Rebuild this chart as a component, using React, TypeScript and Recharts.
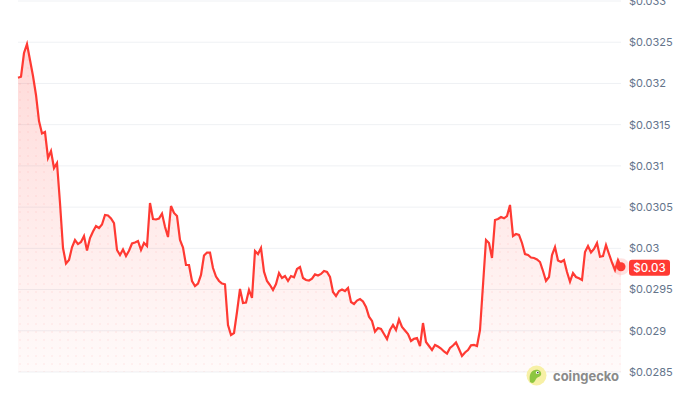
import React from "react";
import { AreaChart, Area, XAxis, YAxis, CartesianGrid } from "recharts";

// price samples, oldest to newest
const prices = [
  0.03207, 0.032082, 0.032369, 0.032478, 0.032284, 0.03209, 0.03186, 0.031544, 0.031393, 0.031411,
  0.031096, 0.031181, 0.030974, 0.031035, 0.03055, 0.030004, 0.029816, 0.029858, 0.030012, 0.030101,
  0.030052, 0.030077, 0.03015, 0.029974, 0.030125, 0.030204, 0.030271, 0.030247, 0.030289, 0.030404,
  0.030398, 0.030362, 0.030307, 0.02998, 0.029919, 0.029986, 0.029907, 0.029971, 0.030059, 0.030071,
  0.030089, 0.02998, 0.030065, 0.030028, 0.03055, 0.030356, 0.03035, 0.030362, 0.030422, 0.030262,
  0.030137, 0.030513, 0.030429, 0.030392, 0.030101, 0.03001, 0.029798, 0.029798, 0.029604, 0.029543,
  0.029573, 0.029677, 0.029913, 0.029949, 0.029949, 0.029761, 0.029658, 0.029604, 0.029573, 0.029564,
  0.02907, 0.028949, 0.028973, 0.029228, 0.029507, 0.029337, 0.029343, 0.029495, 0.029398, 0.029968,
  0.029931, 0.030004, 0.029717, 0.029604, 0.029555, 0.029495, 0.029567, 0.029701, 0.02964, 0.029664,
  0.029604, 0.029664, 0.029649, 0.029749, 0.029774, 0.02964, 0.029616, 0.02961, 0.029632, 0.029685,
  0.02967, 0.029689, 0.029725, 0.029713, 0.029652, 0.02947, 0.029422, 0.029482, 0.029501, 0.029482,
  0.029519, 0.029349, 0.029325, 0.029367, 0.029385, 0.029355, 0.029288, 0.029171, 0.029119, 0.028989,
  0.029034, 0.029022, 0.028961, 0.0289, 0.029009, 0.02907, 0.029009, 0.029137, 0.029046, 0.029003,
  0.028961, 0.028876, 0.028903, 0.028912, 0.028815, 0.029094, 0.028864, 0.028815, 0.028767, 0.028828,
  0.028809, 0.028785, 0.028749, 0.028724, 0.028791, 0.028821, 0.028858, 0.028779, 0.028694, 0.028737,
  0.028767, 0.028824, 0.028828, 0.028815, 0.029009, 0.029555, 0.030101, 0.030065, 0.029883, 0.030344,
  0.030356, 0.03038, 0.030364, 0.030392, 0.030526, 0.03015, 0.030174, 0.030162, 0.030065, 0.029931,
  0.029919, 0.029889, 0.029883, 0.029865, 0.029834, 0.029725, 0.029604, 0.029652, 0.029919, 0.030016,
  0.029852, 0.029834, 0.029858, 0.029713, 0.029595, 0.029701, 0.029652, 0.029637, 0.029616, 0.029956,
  0.030028, 0.029949, 0.029992, 0.030065, 0.029898, 0.029907, 0.03004, 0.029931, 0.029828, 0.029737,
  0.029858, 0.029777,
];

const yTicks = [0.0285, 0.029, 0.0295, 0.03, 0.0305, 0.031, 0.0315, 0.032, 0.0325, 0.033];
const currentLabel = "$0.03";

const RED = "#ff3a33";

const data = prices.map((price, i) => ({ t: i, price }));
const lastIndex = prices.length - 1;

const fmt = (v: number) => "$" + parseFloat(v.toFixed(4));

const EndDot = (props: any) => {
  const { cx, cy, index } = props;
  if (index !== lastIndex) return <g key={`d-${index}`} />;
  return (
    <g key="end-dot">
      <circle cx={cx} cy={cy} r={8.5} fill={RED} fillOpacity={0.15} />
      <circle cx={cx} cy={cy} r={4.5} fill={RED} />
      <rect x={cx + 8} y={cy - 7} width={41} height={16} rx={3} fill={RED} />
      <text
        x={cx + 28.5}
        y={cy + 1}
        textAnchor="middle"
        dominantBaseline="central"
        fill="#fff"
        fontSize={11.5}
        fontWeight={500}
        fontFamily="Inter, sans-serif"
      >
        {currentLabel}
      </text>
    </g>
  );
};

const Logo = () => (
  <div
    style={{
      position: "absolute",
      left: 526,
      top: 365,
      display: "flex",
      alignItems: "center",
      fontFamily: "Inter, sans-serif",
    }}
  >
    <svg width={21} height={21} viewBox="0 0 21 21">
      <circle cx={10.5} cy={10.5} r={10} fill="#f7f0a6" />
      <path d="M4 17 C3 11 4 6 9 5 C13 4 16 7 15 10 C14 12 11 12 10 14 C9 16 8 18 6 18 Z" fill="#8dc63f" />
      <circle cx={11.5} cy={7.5} r={1.6} fill="#fff" />
      <circle cx={11.8} cy={7.6} r={0.8} fill="#333" />
    </svg>
    <span style={{ marginLeft: 6, fontSize: 13, fontWeight: 700, color: "#8a8a8a" }}>coingecko</span>
  </div>
);

export default function App() {
  return (
    <div style={{ position: "absolute", left: 0, top: 0, width: 682, height: 405, background: "#fff" }}>
      <AreaChart width={682} height={405} data={data} margin={{ top: 1, right: 0, bottom: 33, left: 18 }}>
        <defs>
          <linearGradient id="priceFill" x1="0" y1="0" x2="0" y2="1">
            <stop offset="0%" stopColor={RED} stopOpacity={0.32} />
            <stop offset="100%" stopColor={RED} stopOpacity={0.04} />
          </linearGradient>
          <pattern id="dotFill" width={8} height={8} patternUnits="userSpaceOnUse">
            <circle cx={4} cy={4} r={1.1} fill={RED} fillOpacity={0.1} />
          </pattern>
        </defs>
        <CartesianGrid vertical={false} stroke="#eff1f4" />
        <XAxis dataKey="t" hide />
        <YAxis
          orientation="right"
          width={61}
          domain={[0.0285, 0.033]}
          ticks={yTicks}
          tickFormatter={fmt}
          axisLine={false}
          tickLine={false}
          tickSize={0}
          tickMargin={8}
          tick={{ fill: "#64748b", fontSize: 11, fontFamily: "Inter, sans-serif", textAnchor: "start" }}
          interval={0}
        />
        <Area
          type="linear"
          dataKey="price"
          stroke="none"
          fill="url(#dotFill)"
          isAnimationActive={false}
          activeDot={false}
        />
        <Area
          type="linear"
          dataKey="price"
          stroke={RED}
          strokeWidth={2.2}
          fill="url(#priceFill)"
          dot={EndDot}
          activeDot={false}
          isAnimationActive={false}
        />
      </AreaChart>
      <Logo />
    </div>
  );
}
